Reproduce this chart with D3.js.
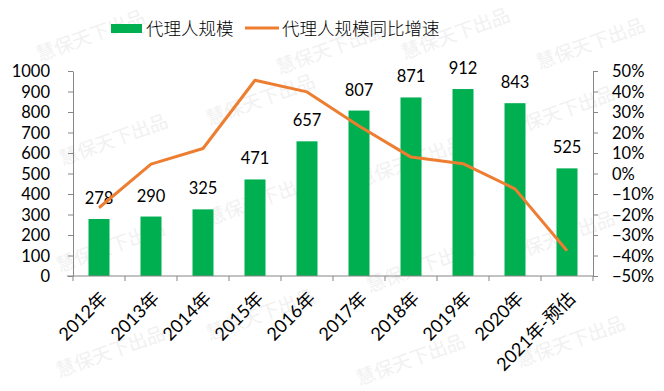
<!DOCTYPE html>
<html><head><meta charset="utf-8">
<script src="https://cdn.jsdelivr.net/npm/d3@7/dist/d3.min.js"></script>
<style>
body{margin:0;background:#fff;}
text{font-family:Lato,"Noto Sans CJK SC",sans-serif;}
</style></head>
<body><svg id="c" width="664" height="391"></svg>
<script>
const categories = ["2012年","2013年","2014年","2015年","2016年","2017年","2018年","2019年","2020年","2021年-预估"];
const agentScale = [278,290,325,471,657,807,871,912,843,525];
const yoyGrowth = [-0.167,0.046,0.122,0.455,0.398,0.232,0.080,0.048,-0.075,-0.377];
const leftTicks = [0,100,200,300,400,500,600,700,800,900,1000];
const rightTicks = [-0.5,-0.4,-0.3,-0.2,-0.1,0,0.1,0.2,0.3,0.4,0.5];
const seriesNames = ["代理人规模","代理人规模同比增速"];
const watermark = "慧保天下出品";
const watermarkPos = [[90,34],[330,47],[455,32],[590,42],[113,138],[260,98],[410,160],[560,110],[260,198],[110,245],[420,265],[560,235],[260,313],[110,350],[410,358],[570,340]];

const svg = d3.select("#c");
const green = "#00B050", orange = "#ED7D31";
const L = 73, R = 593, T = 71, B = 276;

const xo = d3.scaleBand().domain(categories).range([L,R]);
const yL = d3.scaleLinear().domain([0,1000]).range([B,T]);
const yR = d3.scaleLinear().domain([-0.5,0.5]).range([B,T]);
const cx = i => xo(categories[i]) + xo.bandwidth()/2;

// watermarks
svg.append("g").selectAll("text").data(watermarkPos).join("text")
  .attr("transform", d => `translate(${d[0]},${d[1]}) rotate(-20)`)
  .attr("text-anchor","middle").attr("dominant-baseline","central")
  .attr("font-size",19).attr("fill","#f1f1f1")
  .style("font-family","'Noto Sans CJK SC'")
  .text(watermark);

// bars
svg.append("g").selectAll("rect").data(agentScale).join("rect")
  .attr("x",(d,i)=>cx(i) - 10.5)
  .attr("width",21)
  .attr("y",d=>yL(d)).attr("height",d=>B-yL(d))
  .attr("fill",green);

// bar labels
svg.append("g").selectAll("text").data(agentScale).join("text")
  .attr("x",(d,i)=>cx(i))
  .attr("y",d=>yL(d)-15)
  .attr("text-anchor","middle").attr("font-size",16.5).attr("fill","#000")
  .text(d=>d);

// line
const line = d3.line().x((d,i)=>cx(i)).y(d=>yR(d));
svg.append("path").datum(yoyGrowth).attr("d",line)
  .attr("fill","none").attr("stroke",orange).attr("stroke-width",3).attr("stroke-linejoin","round");

// left axis
const gl = svg.append("g").attr("transform",`translate(${L},0)`)
  .call(d3.axisLeft(yL).tickValues(leftTicks).tickFormat(d3.format("d")).tickSize(5).tickSizeOuter(0));
gl.select(".domain").attr("stroke","#868686");
gl.selectAll(".tick line").attr("stroke","#868686").attr("x1",-5).attr("x2",0);
gl.selectAll(".tick text").attr("font-size",16.5).attr("fill","#000").attr("x",-23).attr("dy","0.36em");

// right axis
const gr = svg.append("g").attr("transform",`translate(${R},0)`)
  .call(d3.axisRight(yR).tickValues(rightTicks).tickFormat(d3.format(".0%")).tickSize(5).tickSizeOuter(0));
gr.select(".domain").attr("stroke","#868686");
gr.selectAll(".tick line").attr("stroke","#868686").attr("x1",0).attr("x2",5);
gr.selectAll(".tick text").attr("font-size",16.5).attr("fill","#000").attr("x",19).attr("dy","0.36em");

// bottom axis
const gb = svg.append("g").attr("transform",`translate(0,${B})`)
  .call(d3.axisBottom(xo).tickSize(0).tickSizeOuter(0));
gb.select(".domain").attr("stroke","#868686").attr("d",`M${L-6},0H${R}`);
svg.append("g").selectAll("line").data(d3.range(categories.length+1)).join("line")
  .attr("x1",i=>L+i*xo.step()).attr("x2",i=>L+i*xo.step())
  .attr("y1",B).attr("y2",B+5).attr("stroke","#868686");
gb.selectAll(".tick text")
  .attr("font-size",18).attr("fill","#000")
  .attr("text-anchor","end")
  .attr("transform","translate(5,19) rotate(-45)")
  .attr("x",0).attr("y",0).attr("dy","0.35em");

// legend
const lg = svg.append("g");
lg.append("rect").attr("x",111).attr("y",24).attr("width",31).attr("height",9).attr("fill",green);
lg.append("text").attr("x",146).attr("y",35).attr("font-size",17.5).style("font-family","'Noto Sans CJK SC'").attr("font-weight",300).text(seriesNames[0]);
lg.append("line").attr("x1",245).attr("x2",279).attr("y1",28).attr("y2",28).attr("stroke",orange).attr("stroke-width",3);
lg.append("text").attr("x",282).attr("y",35).attr("font-size",17.5).style("font-family","'Noto Sans CJK SC'").attr("font-weight",300).text(seriesNames[1]);
</script></body></html>
